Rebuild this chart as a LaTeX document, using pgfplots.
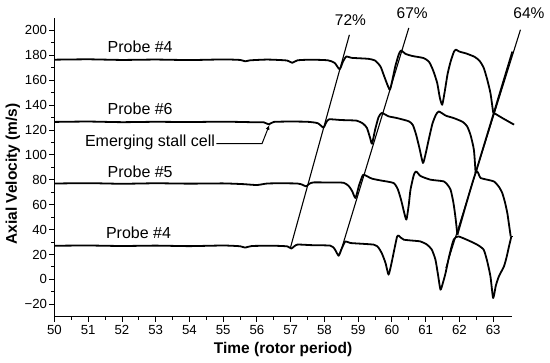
\documentclass[border=0pt]{standalone}
\usepackage{fontspec}
\setmainfont{Liberation Sans}
\usepackage{pgfplots}
\usetikzlibrary{arrows.meta}
\pgfplotsset{compat=1.18}
\begin{document}
\begin{tikzpicture}
\begin{axis}[
  scale only axis, width=457.2pt, height=298.7pt,
  xmin=50, xmax=63.55, ymin=-30, ymax=210,
  axis lines*=left,
  axis line style={line width=1.1pt},
  xtick={50,51,...,63},
  ytick={-20,0,20,40,60,80,100,120,140,160,180,200},
  yticklabels={−20,0,20,40,60,80,100,120,140,160,180,200},
  minor x tick num=1, minor y tick num=1,
  tick align=outside, major tick length=5pt, minor tick length=3pt,
  tick style={line width=0.9pt, black},
  ticklabel style={font=\fontsize{13.2}{15}\selectfont},
  yticklabel style={xshift=1pt},
  /pgf/number format/assume math mode=true,
  xlabel={Time (rotor period)},
  ylabel={Axial Velocity (m/s)},
  xlabel style={font=\bfseries\fontsize{15.5}{18}\selectfont, at={(axis description cs:0.5,-0.111)}, anchor=center},
  ylabel style={font=\bfseries\fontsize{15.5}{18}\selectfont, at={(axis description cs:-0.091,0.478)}, anchor=center},
  clip=false,
  cycle list={{black,solid}},
  every axis plot/.append style={black, solid, line width=1.8pt, line join=round, no markers},
]
% Top trace (Probe #4)
\addplot[smooth, tension=0.35] coordinates {
(50,176.5) (51,176.8) (52,176.3) (53,176.6) (54,176.2) (55,176.7) (55.5,176.3) (55.65,175.2) (55.8,176.0) (56.3,176.6) (56.7,176.2) (56.9,175.8) (57.05,174.0) (57.2,176.0) (57.6,176.5) (58.1,176.0) (58.3,174.0) (58.45,168.8) (58.55,175) (58.65,179.1) (58.8,178) (59.3,177.2) (59.5,175.8) (59.66,171.1) (59.76,164) (59.85,157.5) (59.94,152.4) (60.02,161) (60.1,171.1) (60.2,180.5) (60.27,183.9) (60.4,181.2) (60.6,179.5) (60.94,177.8) (61.1,174.8) (61.22,168) (61.34,158) (61.42,146) (61.49,140.3) (61.56,150) (61.65,165) (61.74,175) (61.84,183) (61.9,184.5) (62.0,183) (62.2,181.5) (62.45,178.8) (62.6,175.5) (62.72,170) (62.82,161) (62.92,149.7) (63.0,134.5) (63.02,133.7)};
\addplot[] coordinates {(63.02,133.7) (63.57,183)};
% Probe #6
\addplot[smooth, tension=0.35] coordinates {
(50,126.5) (51,126.8) (52,126.3) (53,126.6) (54,126.4) (55,126.7) (55.8,126.3) (56.2,126.2) (56.35,124.5) (56.5,126.5) (57,126.8) (57.5,126.6) (57.8,125.5) (57.97,122) (58.05,126) (58.14,128.6) (58.5,128) (58.96,127.5) (59.15,125) (59.26,121.6) (59.35,114) (59.41,109) (59.5,120) (59.6,130) (59.7,133.7) (59.9,131) (60.15,129.6) (60.5,127) (60.62,124) (60.72,116) (60.82,105) (60.92,93.5) (61.0,101) (61.09,112.2) (61.2,125) (61.3,132) (61.39,134.9) (61.6,131.5) (61.83,129.6) (62.1,126.5) (62.23,122.9) (62.33,116) (62.43,104) (62.48,85.5)};
\addplot[] coordinates {(62.48,85.5) (63.02,133.7) (63.3,129.2) (63.62,124.3)};
% Probe #5
\addplot[smooth, tension=0.35] coordinates {
(50,77) (51,77.3) (52,76.8) (53,77.2) (54,76.9) (55,77.1) (55.6,76.5) (56,75.8) (56.3,77) (56.7,77.2) (57.2,77) (57.35,76) (57.46,74.7) (57.55,76.8) (57.68,77.9) (58.2,77.8) (58.57,77.6) (58.72,75) (58.82,71) (58.92,65.4) (59.02,75) (59.12,82.7) (59.17,84.1) (59.4,81) (59.66,79.5) (60.05,77.4) (60.18,72) (60.28,63) (60.36,54) (60.43,48) (60.5,60) (60.55,72) (60.65,84) (60.72,86.7) (60.85,83) (61.14,80.1) (61.54,78.7) (61.66,75.5) (61.74,72) (61.82,62) (61.88,50.6) (61.94,35.9)};
\addplot[smooth, tension=0.35] coordinates {
(61.94,35.9) (62.48,85.5) (62.63,81.4) (63.02,78.7) (63.18,74) (63.27,69.4) (63.35,62) (63.42,53.3) (63.47,44) (63.52,34.5)};
% Bottom trace (Probe #4)
\addplot[smooth, tension=0.35] coordinates {
(50,27) (51,27.2) (52,26.8) (53,27.1) (54,26.7) (55,27.2) (55.5,26.6) (55.65,25.5) (55.85,26.8) (56.5,27) (56.9,26.5) (57.02,24.8) (57.19,27.9) (57.6,27.5) (58.17,27.1) (58.3,24.5) (58.42,19) (58.5,24) (58.62,30.5) (58.77,29.2) (59.46,27.9) (59.6,25.5) (59.7,21) (59.81,13.2) (59.9,3.8) (59.98,12) (60.05,21.2) (60.15,34) (60.2,35.1) (60.35,31.9) (60.84,30.5) (61.04,27.9) (61.18,24) (61.29,15.8) (61.37,3) (61.44,-8.3) (61.52,-2) (61.59,5.1) (61.7,19) (61.83,31.9) (61.97,34.5) (62.33,30.5) (62.55,27.5) (62.72,23.8) (62.82,15) (62.92,2.4) (63.0,-15) (63.08,-5) (63.17,2.4) (63.32,10.4) (63.4,18) (63.47,26.5) (63.54,34.5)};
\addplot[line width=0.8pt] coordinates {(63.52,34.5) (63.58,34.5)};
% Percentage lines
\addplot[line width=1.1pt] coordinates {(56.99,25.2) (58.74,196.5)};
\addplot[line width=1.1pt] coordinates {(58.47,21.2) (60.5,202)};
\addplot[line width=1.1pt] coordinates {(61.6,9.2) (63.81,200.6)};
% Labels
\node[font=\fontsize{15.5}{18}\selectfont] at (axis cs:58.77,208.6) {72\%};
\node[font=\fontsize{15.5}{18}\selectfont] at (axis cs:60.6,214) {67\%};
\node[font=\fontsize{15.5}{18}\selectfont] at (axis cs:64.06,214) {64\%};
\node[font=\fontsize{16}{19}\selectfont] at (axis cs:52.54,186.6) {Probe \#4};
\node[font=\fontsize{16}{19}\selectfont] at (axis cs:52.54,136.9) {Probe \#6};
\node[font=\fontsize{16}{19}\selectfont] at (axis cs:52.83,110) {Emerging stall cell};
\node[font=\fontsize{16}{19}\selectfont] at (axis cs:52.54,86.8) {Probe \#5};
\node[font=\fontsize{16}{19}\selectfont] at (axis cs:52.49,37.3) {Probe \#4};
\draw[line width=1pt, -{Latex[length=5pt,width=4pt]}] (axis cs:54.8,109) -- (axis cs:56.15,109) -- (axis cs:56.37,124.2);
\end{axis}
\pgfresetboundingbox
\path (-54.5pt,-46.3pt) rectangle (495.5pt,316.7pt);
\end{tikzpicture}
\end{document}
